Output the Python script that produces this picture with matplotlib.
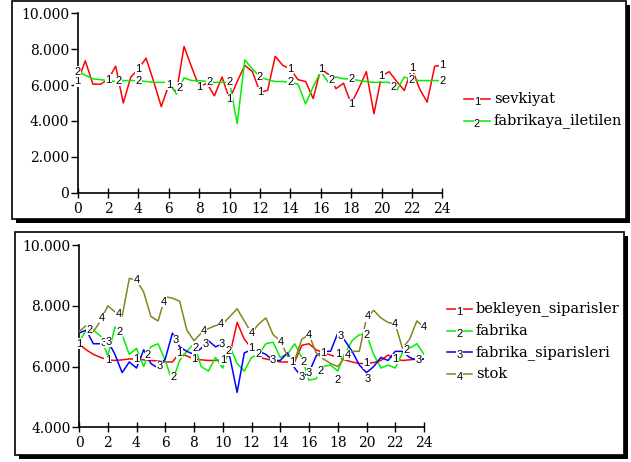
import numpy as np
import matplotlib
matplotlib.use('Agg')
import matplotlib.pyplot as plt
from matplotlib.patches import Rectangle
from matplotlib.lines import Line2D

# zaman ekseni (yarım birim aralıklı kayıtlar)
zaman = np.linspace(0, 24, 49)

# ust grafik
sevkiyat = [6.2, 7.35, 6.05, 6.05, 6.3, 7.05, 5.0, 6.45, 6.9, 7.5, 6.2, 4.8, 6.0, 5.6, 8.15, 7.0, 5.9,
            6.1, 5.4, 6.45, 5.2, 6.2, 7.1, 6.75, 5.6, 5.7, 7.6, 7.1, 6.9, 6.3, 6.2, 5.25, 6.9, 6.6,
            5.8, 6.1, 4.95, 5.8, 6.75, 4.4, 6.5, 6.75, 6.2, 5.7, 6.95, 5.8, 5.05, 7.05, 7.1]
fabrikaya_iletilen = [6.75, 6.55, 6.35, 6.3, 6.25, 6.2, 6.25, 6.25, 6.25, 6.2, 6.15, 6.15, 6.15, 5.5,
                      6.4, 6.25, 6.25, 6.2, 6.15, 6.15, 6.15, 3.85, 7.4, 6.9, 6.45, 6.3, 6.2, 6.2,
                      6.15, 6.05, 4.95, 5.9, 6.75, 6.15, 6.45, 6.35, 6.35, 6.25, 6.2, 6.15, 6.15,
                      6.15, 5.7, 6.45, 6.3, 6.25, 6.25, 6.25, 6.25]

# alt grafik
bekleyen_siparisler = [6.75, 6.55, 6.4, 6.3, 6.22, 6.2, 6.22, 6.25, 6.25, 6.22, 6.2, 6.18, 6.15, 6.15,
                       6.45, 6.35, 6.25, 6.22, 6.2, 6.2, 6.22, 6.4, 7.45, 6.9, 6.6, 6.3, 6.25, 6.2,
                       6.15, 6.15, 6.15, 6.7, 6.75, 6.55, 6.45, 6.38, 6.3, 6.22, 6.15, 6.1, 6.1,
                       6.13, 6.2, 6.38, 6.25, 6.2, 6.22, 6.25, 6.25]
fabrika = [6.8, 7.2, 7.2, 7.0, 6.35, 7.3, 7.05, 6.4, 6.6, 6.0, 6.65, 6.75, 6.2, 5.5, 6.2, 6.5, 6.75,
           6.0, 5.85, 6.3, 5.95, 6.65, 6.1, 5.85, 6.3, 6.4, 6.75, 6.8, 6.3, 6.4, 6.75, 6.3, 5.55,
           5.6, 6.0, 6.05, 5.85, 6.45, 6.85, 7.05, 7.05, 6.4, 5.95, 6.05, 5.95, 6.45, 6.6, 6.75, 6.4]
fabrika_siparisleri = [7.1, 7.2, 6.75, 6.75, 6.85, 6.4, 5.8, 6.15, 5.95, 6.55, 6.1, 5.95, 6.25, 7.1,
                       6.65, 6.5, 6.4, 6.6, 6.85, 6.65, 6.75, 6.3, 5.15, 6.45, 6.55, 6.5, 6.4, 6.2,
                       6.2, 6.45, 5.95, 5.65, 5.8, 6.35, 6.5, 6.5, 7.1, 6.85, 6.5, 6.05, 5.8, 6.0,
                       6.3, 6.2, 6.5, 6.5, 6.3, 6.2, 6.25]
stok = [7.15, 7.35, 7.15, 7.5, 8.0, 7.8, 7.65, 8.9, 8.85, 8.45, 7.65, 7.5, 8.3, 8.25, 8.15, 7.2, 6.85,
        7.1, 7.25, 7.35, 7.4, 7.65, 7.9, 7.5, 7.1, 7.4, 7.6, 7.05, 6.85, 6.35, 6.2, 6.9, 7.05, 6.45,
        6.25, 6.1, 6.0, 6.3, 6.5, 6.5, 7.6, 7.85, 7.6, 7.45, 7.4, 6.6, 6.9, 7.5, 7.3]

# numara etiketlerinin yerleri (zaman, dikey kayma)
lab_ust = [[0, 2, 4, 6, 8, 10, 12, 14, 16, 18, 20, 22, 24],
           [0, 2.7, 4, 6.7, 8.7, 10, 12, 14, 16.7, 18, 20.8, 22, 24]]
lab_alt = [[0, 2, 4, 7, 8, 10, 12, 14.8, 17, 18, 20, 22],
           [0.75, 2.8, 4.8, 6.6, 8.1, 10.4, 12.5, 15.6, 16.8, 18, 20, 22.8],
           [1.7, 2.05, 5.6, 6.75, 8.8, 9.95, 13.5, 15.5, 16, 18.2, 20.1, 23.6],
           [1.6, 2.75, 4, 5.9, 8.7, 9.9, 12, 14.05, 16, 18.7, 20.1, 22, 24]]
kayma_alt = {(1, 18): -0.3, (2, 20.1): -0.25, (0, 18): 0.1}

renkler = ['#ff0000', '#00ee00', '#0000ff', '#85851a']

W, H = 631, 462
fig = plt.figure(figsize=(W / 100, H / 100), dpi=100)

def px(x, y):
    return x / W, 1 - y / H

def kutu(x0, y0, x1, y1):
    # golgeli cerceve
    fig.patches.append(Rectangle(px(x0 + 4, y1 + 4), (x1 - x0) / W, (y1 - y0) / H,
                                 transform=fig.transFigure, facecolor='black', edgecolor='none', zorder=-3))
    fig.patches.append(Rectangle(px(x0, y1), (x1 - x0) / W, (y1 - y0) / H,
                                 transform=fig.transFigure, facecolor='white', edgecolor='black',
                                 linewidth=1.2, zorder=-2))

kutu(12, 1, 626, 219)
kutu(15, 232, 624, 455)

serif = 'DejaVu Serif'
sans = 'Liberation Sans'

def eksen(x0, x1, ytop, ybot, ymin, ymax, yticks):
    l, b = px(x0, ybot)
    ax = fig.add_axes([l, b, (x1 - x0) / W, (ybot - ytop) / H])
    ax.set_zorder(2)
    ax.set_facecolor('none')
    ax.set_xlim(0, 24)
    ax.set_ylim(ymin, ymax)
    for s in ['top', 'right']:
        ax.spines[s].set_visible(False)
    ax.spines['left'].set_linewidth(1.2)
    ax.spines['bottom'].set_linewidth(1.2)
    ax.set_xticks(range(0, 25, 2))
    ax.set_yticks(yticks)
    ax.set_yticklabels(['{:,.0f}'.format(v).replace(',', '.') for v in yticks])
    ax.tick_params(axis='x', direction='inout', length=7, width=1, labelsize=10, pad=3)
    ax.tick_params(axis='y', direction='out', length=5, width=1, labelsize=10, pad=1)
    for lab in ax.get_xticklabels() + ax.get_yticklabels():
        lab.set_fontfamily(serif)
    return ax

def ciz(ax, seri, k, etiketler, olcek, kayma={}):
    y = np.array(seri) * olcek
    ax.plot(zaman, y, color=renkler[k], lw=1.1, zorder=3)
    for t in etiketler:
        yy = np.interp(t, zaman, y) + kayma.get((k, t), 0) * olcek
        ax.text(t, yy, str(k + 1), ha='center', va='center', fontsize=8,
                family=sans, zorder=4,
                bbox=dict(facecolor='white', edgecolor='none', pad=0.2))

def lejant(x0, x1, xt, y, k, ad):
    fig.add_artist(Line2D([x0 / W, x1 / W], [1 - y / H, 1 - y / H], color=renkler[k], lw=1.1))
    fig.text((x0 + x1) / 2 / W, 1 - (y + 3) / H, str(k + 1), ha='center', va='center', fontsize=8,
             family=sans, bbox=dict(facecolor='white', edgecolor='none', pad=0.2))
    fig.text(xt / W, 1 - y / H, ad, ha='left', va='center', fontsize=10.5, family=serif)

# ust panel
ax1 = eksen(77.7, 442.3, 13.3, 192.7, 0, 10000, [0, 2000, 4000, 6000, 8000, 10000])
ciz(ax1, sevkiyat, 0, lab_ust[0], 1000)
ciz(ax1, fabrikaya_iletilen, 1, lab_ust[1], 1000)
lejant(464, 490, 494, 99, 0, 'sevkiyat')
lejant(464, 490, 494, 121, 1, 'fabrikaya_iletilen')

# alt panel
ax2 = eksen(79, 424, 245, 427.3, 4000, 10000, [4000, 6000, 8000, 10000])
alt_seriler = [bekleyen_siparisler, fabrika, fabrika_siparisleri, stok]
alt_adlar = ['bekleyen_siparisler', 'fabrika', 'fabrika_siparisleri', 'stok']
for k in range(4):
    ciz(ax2, alt_seriler[k], k, lab_alt[k], 1000, kayma_alt)
    lejant(447, 472, 476, 309 + k * 21.7, k, alt_adlar[k])

fig.savefig('out.png', dpi=100)
